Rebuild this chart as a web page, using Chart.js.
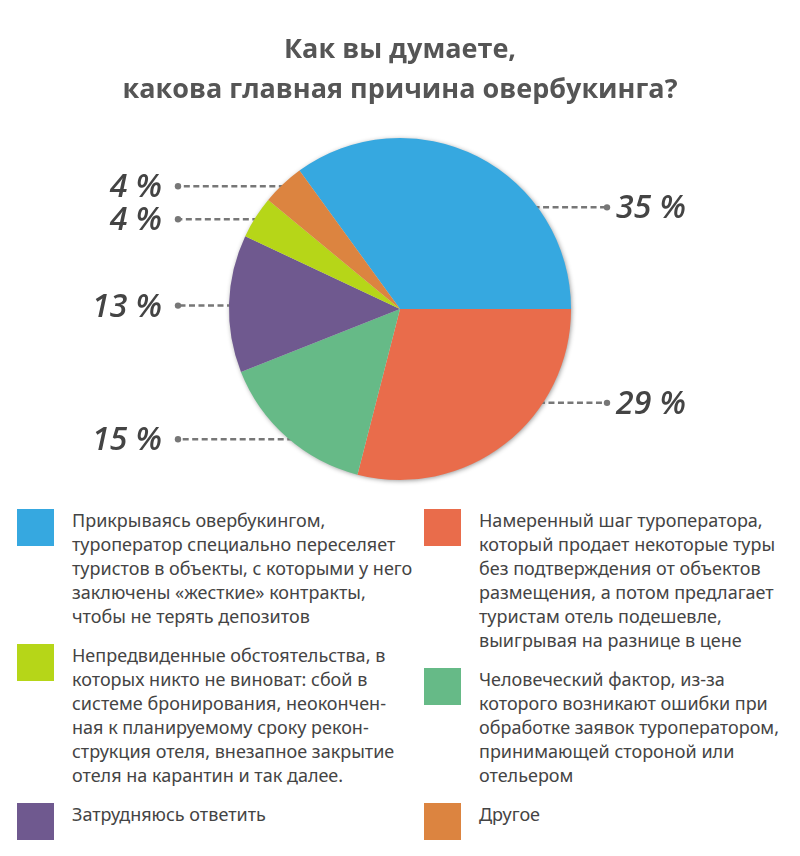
<!DOCTYPE html>
<html>
<head>
<meta charset="utf-8">
<script src="https://cdn.jsdelivr.net/npm/chart.js@4/dist/chart.umd.min.js"></script>
<style>
  body { margin: 0; background: #fff; width: 800px; height: 856px; overflow: hidden; font-family: "Noto Sans", sans-serif; }
  #wrap { position: relative; width: 800px; height: 500px; }
  #legend { position: absolute; top: 508px; left: 0; width: 800px; }
  .col { position: absolute; top: 0; width: 380px; }
  .item { position: relative; padding-left: 55px; margin-bottom: 15px; font-size: 18px; line-height: 24px; color: #444; white-space: pre; }
  .box { position: absolute; left: 0; top: 1px; width: 37px; height: 37px; }
</style>
</head>
<body>
<div id="wrap"><canvas id="pie-chart" width="800" height="500"></canvas></div>
<div id="legend"></div>
<script>
// Chart data
var titleLines = ["Как вы думаете,", "какова главная причина овербукинга?"];
var answers = [
    "Прикрываясь овербукингом,\nтуроператор специально переселяет\nтуристов в объекты, с которыми у него\nзаключены «жесткие» контракты,\nчтобы не терять депозитов",
    "Намеренный шаг туроператора,\nкоторый продает некоторые туры\nбез подтверждения от объектов\nразмещения, а потом предлагает\nтуристам отель подешевле,\nвыигрывая на разнице в цене",
    "Человеческий фактор, из-за\nкоторого возникают ошибки при\nобработке заявок туроператором,\nпринимающей стороной или\nотельером",
    "Затрудняюсь ответить",
    "Непредвиденные обстоятельства, в\nкоторых никто не виноват: сбой в\nсистеме бронирования, неокончен-\nная к планируемому сроку рекон-\nструкция отеля, внезапное закрытие\nотеля на карантин и так далее.",
    "Другое"
];
var shares = [35, 29, 15, 13, 4, 4];
var colors = ["#36A8E0", "#E96C4B", "#66BA87", "#6F598F", "#B6D618", "#DC8440"];

// Legend: left column and right column
var legendCols = [[0, 4, 3], [1, 2, 5]];
var legendEl = document.getElementById("legend");
legendCols.forEach(function(list, c){
    var col = document.createElement("div");
    col.className = "col";
    col.style.left = (c === 0 ? 17 : 424) + "px";
    list.forEach(function(i){
        var item = document.createElement("div");
        item.className = "item";
        var box = document.createElement("span");
        box.className = "box";
        box.style.background = colors[i];
        item.appendChild(box);
        item.appendChild(document.createTextNode(answers[i]));
        col.appendChild(item);
    });
    legendEl.appendChild(col);
});

// Percent labels with dashed leader lines
var leaderLabels = {
    id: "leaderLabels",
    beforeDatasetsDraw: function(chart){
        var ctx = chart.ctx;
        var arcs = chart.getDatasetMeta(0).data;
        var cx = arcs[0].x, cy = arcs[0].y, r = arcs[0].outerRadius;

        // soft shadow under the pie
        ctx.save();
        ctx.shadowColor = "rgba(0,0,0,0.45)";
        ctx.shadowBlur = 5;
        ctx.shadowOffsetX = 1;
        ctx.shadowOffsetY = 1;
        ctx.fillStyle = "#ddd";
        ctx.beginPath();
        ctx.arc(cx, cy, r - 0.5, 0, Math.PI * 2);
        ctx.fill();
        ctx.restore();

        arcs.forEach(function(arc, i){
            var mid = (arc.startAngle + arc.endAngle) / 2;
            var right = Math.cos(mid) > 0;
            var y = cy + Math.sin(mid) * r * (right ? 0.68 : 1) + 2;
            var dx = Math.sqrt(Math.max(r * r - (y - cy) * (y - cy), 0));
            var xEdge = right ? cx + dx - 4 : cx - dx + 4;
            var xEnd = right ? cx + 207 : cx - 222;

            ctx.save();
            ctx.strokeStyle = "#777";
            ctx.lineWidth = 2.5;
            ctx.setLineDash([6, 3.5]);
            ctx.beginPath();
            ctx.moveTo(xEdge, y);
            ctx.lineTo(xEnd, y);
            ctx.stroke();
            ctx.fillStyle = "#777";
            ctx.beginPath();
            ctx.arc(xEnd, y, 3.2, 0, Math.PI * 2);
            ctx.fill();

            ctx.fillStyle = "#444";
            ctx.font = "italic 600 32px 'Open Sans', sans-serif";
            ctx.textBaseline = "middle";
            ctx.textAlign = right ? "left" : "right";
            ctx.fillText(shares[i] + " %", right ? xEnd + 9 : xEnd - 16, y + 2);
            ctx.restore();
        });
    }
};

var ctx = document.getElementById("pie-chart");

var chartOptions = {
    responsive: false,
    animation: false,
    rotation: -36,
    layout: { padding: { top: 0, bottom: 20 } },
    plugins: {
        legend: { display: false },
        tooltip: { enabled: false },
        title: {
            display: true,
            text: titleLines,
            color: "#555",
            font: { family: "'Open Sans', sans-serif", size: 27, weight: "bold", lineHeight: 1.48 },
            padding: { top: 30, bottom: 28 }
        }
    }
};

var chartData = {
    labels: answers,
    datasets: [{
        data: shares,
        backgroundColor: colors,
        borderWidth: 0
    }]
};

var pieChart = new Chart(ctx, {
    type: "pie",
    options: chartOptions,
    data: chartData,
    plugins: [leaderLabels]
});
</script>
</body>
</html>
